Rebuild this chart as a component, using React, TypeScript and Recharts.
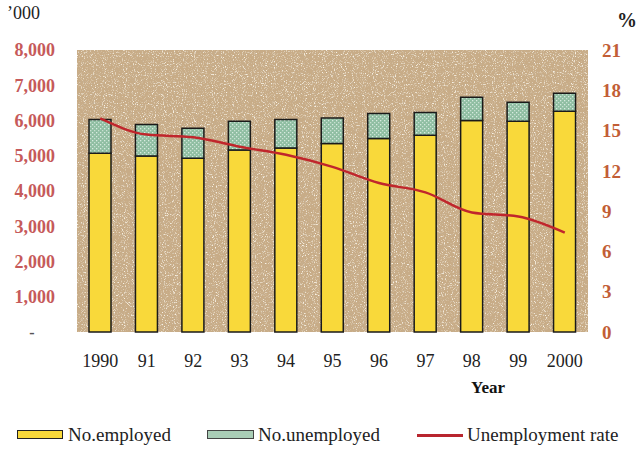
import React from 'react';
import { ComposedChart, Bar, Line, XAxis, YAxis, CartesianGrid } from 'recharts';

const years = ['1990', '91', '92', '93', '94', '95', '96', '97', '98', '99', '2000'];
const employed = [5070, 4990, 4930, 5160, 5220, 5350, 5490, 5580, 6000, 5980, 6260];
const unemployed = [960, 900, 850, 820, 810, 720, 710, 650, 660, 540, 510];
const rate = [15.9, 14.7, 14.5, 13.8, 13.2, 12.3, 11.1, 10.4, 8.9, 8.6, 7.4];
const leftTicks = [0, 1000, 2000, 3000, 4000, 5000, 6000, 7000, 8000];
const rightTicks = [0, 3, 6, 9, 12, 15, 18, 21];

const data = years.map((y, i) => ({
  year: y,
  employed: employed[i],
  unemployed: unemployed[i],
  rate: rate[i],
}));

const SERIF = '"Liberation Serif", "DejaVu Serif", serif';

const LeftTick = (props: any) => {
  const { x, y, payload } = props;
  const v = payload.value as number;
  if (v === 0) {
    return (
      <text x={x - 23} y={y} dy="0.35em" textAnchor="middle" fill="#555" fontFamily={SERIF} fontSize={16} fontWeight="bold">
        -
      </text>
    );
  }
  return (
    <text x={x} y={y} dy="0.35em" textAnchor="end" fill="#c65a5a" fontFamily={SERIF} fontSize={18} fontWeight="bold">
      {v.toLocaleString('en-US')}
    </text>
  );
};

const RightTick = (props: any) => {
  const { x, y, payload } = props;
  return (
    <text x={x} y={y} dy="0.35em" textAnchor="start" fill="#c25e36" fontFamily={SERIF} fontSize={19} fontWeight="bold">
      {payload.value}
    </text>
  );
};

const XTick = (props: any) => {
  const { x, y, payload } = props;
  return (
    <text x={x} y={y} dy="0.71em" textAnchor="middle" fill="#222" fontFamily={SERIF} fontSize={18}>
      {payload.value}
    </text>
  );
};

const FixedText = (props: any) => (
  <text x={props.tx} y={props.ty} textAnchor={props.anchor || 'middle'} fill={props.color || '#222'} fontFamily={SERIF} fontSize={props.size || 15} fontWeight={props.weight || 'normal'}>
    {props.txt}
  </text>
);

export default function App() {
  return (
    <div style={{ position: 'absolute', left: 0, top: 0, width: 641, height: 450, background: '#fff' }}>
      <ComposedChart width={641} height={420} data={data} margin={{ top: 50, left: 17, right: 13, bottom: 28 }} barCategoryGap={0}>
        <defs>
          <filter id="speckle" x="0" y="0" width="100%" height="100%">
            <feTurbulence type="fractalNoise" baseFrequency="0.9" numOctaves="2" seed="4" result="t" />
            <feColorMatrix in="t" type="matrix" values="0 0 0 0 0.93  0 0 0 0 0.88  0 0 0 0 0.78  4 0 0 0 -2.2" />
          </filter>
          <filter id="speckleDark" x="0" y="0" width="100%" height="100%">
            <feTurbulence type="fractalNoise" baseFrequency="1.1" numOctaves="1" seed="9" result="t" />
            <feColorMatrix in="t" type="matrix" values="0 0 0 0 0.55  0 0 0 0 0.45  0 0 0 0 0.33  4 0 0 0 -2.3" />
          </filter>
          <pattern id="bgTex" patternUnits="userSpaceOnUse" x="0" y="0" width="641" height="420">
            <rect x="0" y="0" width="641" height="420" fill="#c8ac87" />
            <rect x="0" y="0" width="641" height="420" filter="url(#speckleDark)" />
            <rect x="0" y="0" width="641" height="420" filter="url(#speckle)" />
          </pattern>
          <pattern id="greenTex" patternUnits="userSpaceOnUse" x="0" y="0" width="4" height="4">
            <rect x="0" y="0" width="4" height="4" fill="#8fbea2" />
            <rect x="0" y="0" width="1.3" height="1.3" fill="#d8ebe0" />
            <rect x="2" y="2" width="1.3" height="1.3" fill="#c8e0d2" />
          </pattern>
        </defs>
        <CartesianGrid horizontal={false} vertical={false} fill="url(#bgTex)" fillOpacity={1} />
        <XAxis
          dataKey="year"
          axisLine={false}
          tickLine={false}
          tickSize={0}
          tickMargin={22}
          height={60}
          interval={0}
          tick={<XTick />}
          label={<FixedText tx={488} ty={393} txt="Year" weight="bold" size={17} color="#111" />}
        />
        <YAxis
          yAxisId="left"
          orientation="left"
          width={60}
          domain={[0, 8000]}
          ticks={leftTicks}
          axisLine={false}
          tickLine={false}
          tickSize={0}
          tickMargin={22}
          interval={0}
          tick={<LeftTick />}
          label={<FixedText tx={7} ty={19} txt="’000" size={18} color="#222" anchor="start" />}
        />
        <YAxis
          yAxisId="right"
          orientation="right"
          width={40}
          domain={[0, 21]}
          ticks={rightTicks}
          axisLine={false}
          tickLine={false}
          tickSize={0}
          tickMargin={14}
          interval={0}
          tick={<RightTick />}
          label={<FixedText tx={627} ty={27} txt="%" size={20} color="#222" weight="bold" />}
        />
        <Bar yAxisId="left" dataKey="employed" stackId="a" fill="#f9d93a" stroke="#1a1a1a" strokeWidth={1.5} barSize={22} isAnimationActive={false} />
        <Bar yAxisId="left" dataKey="unemployed" stackId="a" fill="url(#greenTex)" stroke="#1a1a1a" strokeWidth={1.5} barSize={22} isAnimationActive={false} />
        <Line yAxisId="right" dataKey="rate" type="monotone" stroke="#c0262c" strokeWidth={2.5} dot={false} isAnimationActive={false} />
      </ComposedChart>
      <div style={{ position: 'absolute', left: 0, top: 424, width: 641, height: 26, fontFamily: SERIF, fontSize: 19, color: '#222', lineHeight: '22px' }}>
        <div style={{ position: 'absolute', left: 17, top: 6, width: 44, height: 7, background: '#f9d93a', border: '1.5px solid #222' }} />
        <div style={{ position: 'absolute', left: 68, top: 0, whiteSpace: 'nowrap' }}>No.employed</div>
        <div style={{ position: 'absolute', left: 207, top: 6, width: 45, height: 7, background: '#a9cdb6', border: '1.5px solid #444' }} />
        <div style={{ position: 'absolute', left: 258, top: 0, whiteSpace: 'nowrap' }}>No.unemployed</div>
        <div style={{ position: 'absolute', left: 417, top: 10, width: 46, height: 3, background: '#b8252e' }} />
        <div style={{ position: 'absolute', left: 467, top: 0, whiteSpace: 'nowrap' }}>Unemployment rate</div>
      </div>
    </div>
  );
}
